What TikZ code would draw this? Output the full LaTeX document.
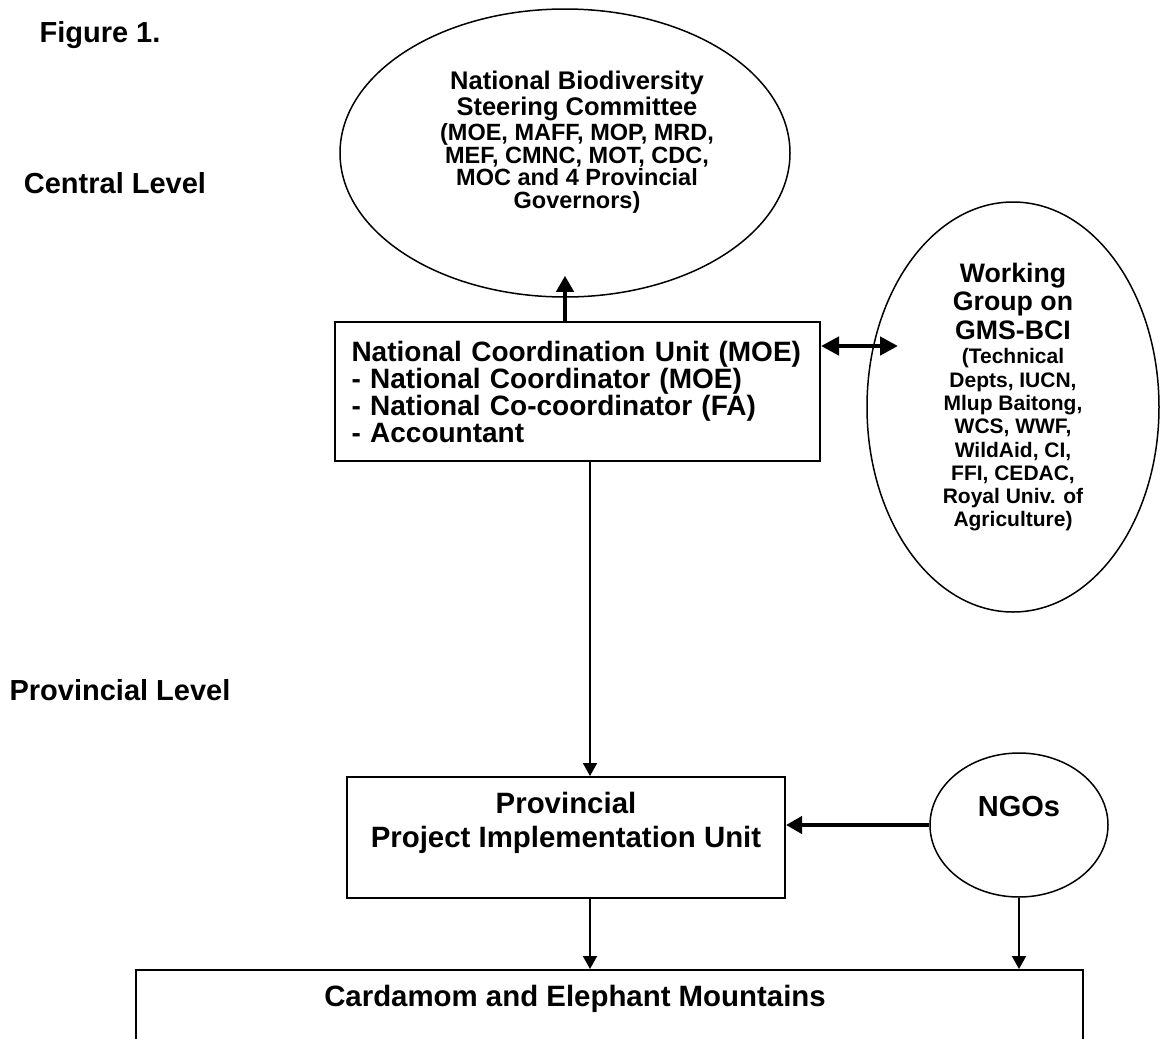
\documentclass[tikz,border=0pt]{standalone}
\usepackage{fontspec}
\setmainfont{Liberation Sans}
\usetikzlibrary{positioning,arrows.meta,shapes.geometric}
\newcommand{\fsz}[2]{\fontsize{#1}{#2}\selectfont\bfseries}

\begin{document}
\begin{tikzpicture}[x=0.5pt, y=-0.5pt,
  unit/.style={draw, rectangle, line width=1pt, inner sep=0pt},
  body/.style={draw, ellipse, line width=0.75pt, inner sep=0pt},
  txt/.style={align=center, inner sep=0pt},
  tier/.style={font=\fsz{14.5pt}{17pt}, inner sep=0pt},
  heavy/.style={-{Triangle[length=8pt, width=8.5pt]}, line width=2.25pt},
  flow/.style={-{Triangle[length=6.5pt, width=7pt]}, line width=1pt}]

\clip (0,0) rectangle (1163,1039);

% level labels
\node[tier] (fig) at (100,35) {Figure 1.};
\node[tier] (central) at (115,183) {Central Level};
\node[tier] (prov) at (120,690) {Provincial Level};

% central level
\node[body, minimum width=225pt, minimum height=144pt] (steer) at (565,153) {};
\node[txt, font=\fsz{12.75pt}{13pt}] (steerhead) at ([xshift=6pt, yshift=28.5pt]steer.center) {National Biodiversity\\Steering Committee};
\node[txt, font=\fsz{11.75pt}{11.25pt}] (steersub) at ([xshift=6pt, yshift=-7.75pt]steer.center) {(MOE, MAFF, MOP, MRD,\\MEF, CMNC, MOT, CDC,\\MOC and 4 Provincial\\Governors)};

\node[unit, minimum width=242.5pt, minimum height=69.5pt, text width=226pt, inner xsep=8.25pt, align=left, font=\fsz{14pt}{13.5pt}] (ncu) at (577.5,391.5)
  {National Coordination Unit (MOE)\\- National Coordinator (MOE)\\- National Co-coordinator (FA)\\- Accountant};

\node[body, minimum width=146pt, minimum height=205pt] (wg) at (1013,407) {};
\node[txt, font=\fsz{13.35pt}{14.25pt}] (wghead) at ([yshift=53pt]wg.center) {Working\\Group on\\GMS-BCI};
\node[txt, font=\fsz{10.5pt}{11.65pt}] (wgsub) at ([yshift=-16.5pt]wg.center) {(Technical\\Depts, IUCN,\\Mlup Baitong,\\WCS, WWF,\\WildAid, CI,\\FFI, CEDAC,\\Royal Univ. of\\Agriculture)};
\coordinate (wgin) at (898,346);

% provincial level
\node[unit, minimum width=219pt, minimum height=60.5pt] (ppiu) at (566,837.5) {};
\node[txt, font=\fsz{14.7pt}{17pt}] (ppiutxt) at ([yshift=7.25pt]ppiu.center) {Provincial\\Project Implementation Unit};

\node[body, minimum width=89pt, minimum height=72pt] (ngos) at (1019,825) {};
\node[txt, font=\fsz{14.5pt}{17pt}] (ngostxt) at ([yshift=9pt]ngos.center) {NGOs};

\node[unit, minimum width=473.5pt, minimum height=100pt, anchor=north] (card) at (609.5,969) {};
\node[txt, font=\fsz{14.7pt}{17pt}] (cardtxt) at ([xshift=-17.25pt, yshift=-15pt]card.north) {Cardamom and Elephant Mountains};

% connectors
\draw[heavy] (ncu.north -| steer.south) -- ([yshift=11pt]steer.south);
\draw[heavy, {Triangle[length=9pt, width=9pt]}-{Triangle[length=9pt, width=9pt]}] (ncu.east |- wgin) -- (wgin);
\draw[flow] ([xshift=6.25pt]ncu.south) -- ([xshift=12pt]ppiu.north);
\draw[heavy] (ngos.west) -- (ngos.west -| ppiu.east);
\draw[flow] ([xshift=12pt]ppiu.south) -- ([xshift=12pt]ppiu.south |- card.north);
\draw[flow] (ngos.south) -- (ngos.south |- card.north);
\end{tikzpicture}
\end{document}
